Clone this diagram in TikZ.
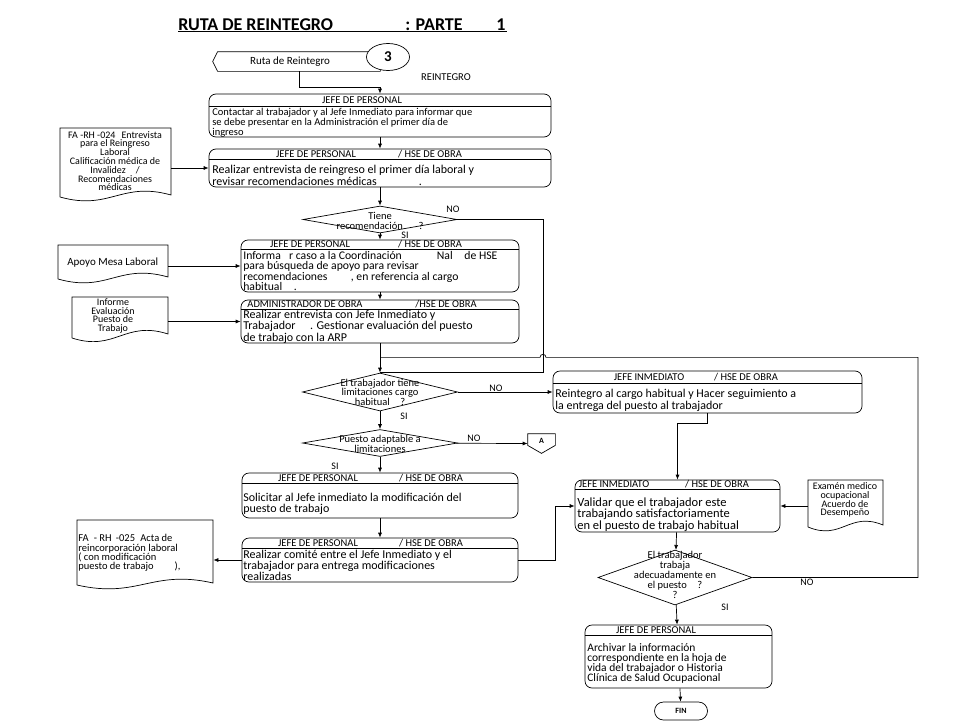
\documentclass[tikz,border=0pt]{standalone}
\usepackage{fontspec}
\setmainfont{Carlito}
\usetikzlibrary{shapes.geometric, arrows.meta, calc}

\newcommand{\apretado}{\lineskiplimit=-10pt\relax}

\tikzset{
	caja/.style={draw, rounded corners=7pt, inner sep=0pt},
	rombo/.style={draw, diamond, inner sep=0pt},
	cab/.style={inner sep=0pt, font=\fontsize{10.5}{10}\selectfont},
	tchico/.style={inner sep=0pt, align=left, anchor=north west, font=\fontsize{10.5}{8.8}\selectfont},
	tgrande/.style={inner sep=0pt, align=left, anchor=north west, font=\fontsize{12}{10}\selectfont},
	trombo/.style={inner sep=0pt, align=center, font=\fontsize{10.5}{9.5}\selectfont},
	tdoc/.style={inner sep=0pt, align=center, font=\fontsize{10}{8.8}\selectfont},
	lab/.style={inner sep=0pt, font=\fontsize{10}{10}\selectfont},
	flecha/.style={-{Latex[length=5pt,width=4pt]}},
}

%% caja con encabezado: nombre, x1, y1, x2, y2, y de la linea
\newcommand{\caja}[6]{%
	\node[caja, minimum width={#4-#2}, minimum height={#5-#3}] (#1) at ({(#2+#4)/2},{(#3+#5)/2}) {};
	\draw (#2,#6) -- (#4,#6);}

%% documento: nombre, x1, y1, x2, y abajo izq., y abajo der.
\newcommand{\docu}[6]{%
	\node[inner sep=0pt, minimum width={#4-#2}, minimum height={#5-#3}] (#1) at ({(#2+#4)/2},{(#3+#5)/2}) {};
	\draw (#2,#5) -- (#2,#3) -- (#4,#3) -- (#4,#6)
		.. controls ({#4-0.45*(#4-#2)},{#6-14}) and ({#2+0.45*(#4-#2)},{#5+14}) .. (#2,#5);}

\begin{document}
\begin{tikzpicture}[x=1pt, y=-1pt, line width=0.7pt]
\useasboundingbox (0,0) rectangle (960,720);

%% Titulo
\node[inner sep=0pt, anchor=base west, font=\fontsize{18}{18}\selectfont\bfseries] (tit1) at (178,30) {RUTA DE REINTEGRO};
\node[inner sep=0pt, anchor=base west, font=\fontsize{18}{18}\selectfont\bfseries] (tit2) at (405,30) {: PARTE};
\node[inner sep=0pt, anchor=base west, font=\fontsize{18}{18}\selectfont\bfseries] (tit3) at (496,30) {1};
\draw (tit1.base west) ++(0,1) -- ++(329,0);

%% Conector de inicio
\node[inner sep=0pt, minimum width=162, minimum height=19] (ruta) at (299,61.5) {};
\draw (ruta.south west) -- ($(ruta.west)+(-5,0)$) -- (ruta.north west) -- (ruta.north east) -- (ruta.south east) -- cycle;
\node[lab, font=\fontsize{11}{11}\selectfont] (rutat) at (290,62) {Ruta de Reintegro};
\node[draw, ellipse, fill=white, minimum width=43, minimum height=27, inner sep=0pt, font=\fontsize{15}{15}\selectfont\bfseries] (tres) at (388,57) {3};
\node[lab, font=\fontsize{10.5}{10}\selectfont] (reint) at (446,77) {REINTEGRO};

%% Columna izquierda
\caja{c1}{209}{94}{551}{137}{106}
\node[cab] (c1h) at (362,100) {JEFE DE PERSONAL};
\node[tchico] (c1t) at (212,107.5) {Contactar al trabajador y al Jefe Inmediato para informar que\\se debe presentar en la Administración el primer día de\\ingreso};

\caja{c2}{209}{149}{551}{187}{159}
\node[cab] (c2h) at (316,154) {JEFE DE PERSONAL};
\node[cab] (c2h2) at (430,154) {/ HSE DE OBRA};
\node[tgrande] (c2t) at (212,165) {Realizar entrevista de reingreso el primer día laboral y\\revisar recomendaciones médicas\hspace{3.5em}.};

\node[rombo, minimum width=154, minimum height=27] (r1) at (380,219.5) {};
\node[trombo] (r1t) at (380,221) {Tiene\\recomendación\hspace{1.5em}?};

\caja{c3}{241}{240}{519}{292}{249}
\node[cab] (c3h) at (310,244.5) {JEFE DE PERSONAL};
\node[cab] (c3h2) at (430,244.5) {/ HSE DE OBRA};
\node[tgrande, font=\fontsize{11.7}{10.4}\selectfont] (c3t) at (243,251) {Informa\hspace{0.7em}r caso a la Coordinación\hspace{3em}Nal\hspace{1em}de HSE\\para búsqueda de apoyo para revisar\\recomendaciones\hspace{2em}, en referencia al cargo\\habitual\hspace{1em}.};

\caja{c4}{241}{300}{519}{343}{309}
\node[cab] (c4h) at (305,304.5) {ADMINISTRADOR DE OBRA};
\node[cab] (c4h2) at (446,304.5) {/HSE DE OBRA};
\node[tgrande] (c4t) at (243,310) {Realizar entrevista con Jefe Inmediato y\\Trabajador\hspace{1.2em}. Gestionar evaluación del puesto\\de trabajo con la ARP};

\coordinate (j2) at ($(c4.south)+(0,14)$);

\node[rombo, minimum width=155, minimum height=38] (r2) at (380,392) {};
\node[trombo] (r2t) at (380,392) {El trabajador tiene\\limitaciones cargo\\habitual\hspace{1em}?};

\node[rombo, minimum width=155, minimum height=27] (r3) at (380,443) {};
\node[trombo] (r3t) at (380,444) {Puesto adaptable a\\limitaciones};

\node[inner sep=0pt, minimum width=27, minimum height=19] (a) at (541.5,443.5) {};
\draw (a.north west) -- (a.north east) -- ($(a.south east)+(0,-8)$) -- (a.south) -- ($(a.south west)+(0,-8)$) -- cycle;
\node[lab, font=\fontsize{8}{8}\selectfont\bfseries] (at) at (541.5,441) {A};

\caja{c6}{242}{473}{518}{518}{483}
\node[cab] (c6h) at (318,478) {JEFE DE PERSONAL};
\node[cab] (c6h2) at (431,478) {/ HSE DE OBRA};
\node[tgrande, font=\fontsize{12}{11}\selectfont] (c6t) at (243,492.5) {Solicitar al Jefe inmediato la modificación del\\puesto de trabajo};

\caja{c7}{242}{538}{518}{582}{548}
\node[cab] (c7h) at (318,543) {JEFE DE PERSONAL};
\node[cab] (c7h2) at (431,543) {/ HSE DE OBRA};
\node[tgrande] (c7t) at (243,549.5) {Realizar comité entre el Jefe Inmediato y el\\trabajador para entrega modificaciones\\realizadas};

%% Documentos
\docu{d1}{60}{128}{171}{197}{195}
\node[tdoc] (d1t) at (115,161) {FA -RH -024\hspace{0.6em}Entrevista\\para el Reingreso\\Laboral\\Calificación médica de\\Invalidez\hspace{1em}/\\Recomendaciones\\médicas};

\docu{d2}{58}{245}{168}{279}{277}
\node[lab, anchor=west, font=\fontsize{11}{10}\selectfont] (d2t) at (67,263) {Apoyo Mesa Laboral};

\docu{d3}{72}{297}{168}{338}{334}
\node[tdoc] (d3t) at (113,316) {Informe\\Evaluación\\Puesto de\\Trabajo};

\docu{d4}{77}{520}{213}{585}{583}
\node[tdoc, align=left, anchor=west, font=\fontsize{10.5}{9.3}\selectfont\apretado] (d4t) at (78,553) {FA\hspace{0.5em}- RH\hspace{0.4em}-025\hspace{0.5em}Acta de\\reincorporación laboral\\( con modificación\\puesto de trabajo\hspace{2em}),};

\docu{d5}{808}{480}{883}{527}{525}
\node[tdoc] (d5t) at (845,500) {Examén medico\\ocupacional\\Acuerdo de\\Desempeño};

%% Columna derecha
\caja{c5}{553}{371}{862}{413}{383}
\node[cab] (c5h) at (649,377) {JEFE INMEDIATO};
\node[cab] (c5h2) at (746,377) {/ HSE DE OBRA};
\node[tchico, font=\fontsize{12}{9.5}\selectfont] (c5t) at (555,389) {Reintegro al cargo habitual y Hacer seguimiento a\\la entrega del puesto al trabajador};

\caja{c8}{575}{480}{780}{532}{489}
\node[cab] (c8h) at (614,484.5) {JEFE INMEDIATO};
\node[cab] (c8h2) at (717,484.5) {/ HSE DE OBRA};
\node[tgrande, font=\fontsize{12.5}{10.5}\selectfont] (c8t) at (577,497) {Validar que el trabajador este\\trabajando satisfactoriamente\\en el puesto de trabajo habitual};

\node[rombo, minimum width=154, minimum height=55] (r4) at (675,577.5) {};
\node[trombo, font=\fontsize{10.5}{10}\selectfont] (r4t) at (675,575) {El trabajador\\trabaja\\adecuadamente en\\el puesto\hspace{1em}?\\?};

\caja{c9}{585}{625}{772}{688}{635}
\node[cab] (c9h) at (656,630) {JEFE DE PERSONAL};
\node[tchico, font=\fontsize{11.5}{10}\selectfont] (c9t) at (587,643) {Archivar la información\\correspondiente en la hoja de\\vida del trabajador o Historia\\Clínica de Salud Ocupacional};

\node[draw, rounded corners=9pt, minimum width=53, minimum height=18, inner sep=0pt, font=\fontsize{8}{8}\selectfont\bfseries] (fin) at (681,711) {FIN};

%% Conectores
\draw[flecha] (ruta.south) -- ++(0,16) -| (c1.north);
\draw[flecha] (c1) -- (c2);
\draw[flecha] (d1.east |- c2.west) -- (c2.west);
\draw[flecha] (c2) -- (r1);
\draw (r1.east) -| ($(r2.north)+(163,0)$) -- (r2.north);
\draw[flecha] (r1) -- (c3);
\draw[flecha] (d2.east |- c3.west) -- (c3.west);
\draw[flecha] (c3) -- (c4);
\draw[flecha] (d3.east |- c4.west) -- (c4.west);
\draw[flecha] (c4) -- (r2);
\draw[flecha] (r2) -- (c5.west |- r2.east);
\draw[flecha] (r2) -- (r3);
\draw[flecha] (r3) -- (a.west);
\draw[flecha] (r3) -- (c6);
\draw[flecha] (c6) -- (c7);
\draw[flecha] (c7.west) -- (c7.west -| d4.east);
\draw[flecha] (c7.east) -- ++(37,0) |- (c8.west);
\draw[flecha] (c5.south) -- ++(0,10) -| (c8.north);
\draw[flecha] (d5.west |- c8.east) -- (c8.east);
\draw[flecha] (c8) -- (r4);
\draw (r4.east) -| ($(j2)+(538,0)$) -- ($(j2)+(166,0)$)
	.. controls ($(j2)+(166,-4)$) and ($(j2)+(160,-4)$) .. ($(j2)+(160,0)$) -- (j2);
\draw[flecha] (r4) -- (c9);
\draw[flecha] (c9) -- (fin);

%% Etiquetas
\node[lab] (no1) at (453,209) {NO};
\node[lab] (si1) at (405,235) {SI};
\node[lab] (no2) at (496,388) {NO};
\node[lab] (si2) at (404,416) {SI};
\node[lab] (no3) at (474,438) {NO};
\node[lab] (si3) at (335,466) {SI};
\node[lab] (no4) at (807,582) {NO};
\node[lab] (si4) at (725,607) {SI};

\end{tikzpicture}
\end{document}
